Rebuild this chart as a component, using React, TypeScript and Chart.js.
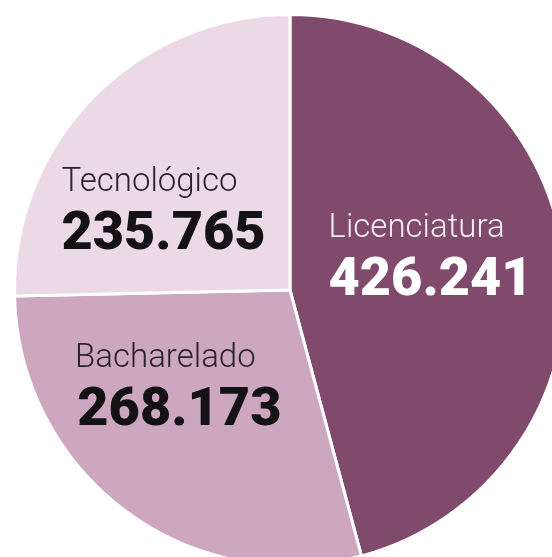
import React, { useEffect, useRef } from "react";
import { Chart, registerables } from "chart.js";

Chart.register(...registerables);

const categories = ["Licenciatura", "Bacharelado", "Tecnológico"];
const values = [426241, 268173, 235765];
const valueLabels = ["426.241", "268.173", "235.765"];

const sliceColors = ["#7f4a6b", "#cda7bf", "#ebdae5"];
const labelColors = ["#f6eef3", "#2a2428", "#2a2428"];
const numberColors = ["#ffffff", "#141214", "#141214"];
// offsets (px) from each slice's centroid to the label block anchor
const labelOffsets = [
  { dx: -10, dy: -35 },
  { dx: -42, dy: -33 },
  { dx: -42, dy: -3 },
];

const labelPlugin = {
  id: "sliceLabels",
  afterDatasetsDraw(chart: any) {
    const ctx = chart.ctx;
    const meta = chart.getDatasetMeta(0);
    ctx.save();
    ctx.textAlign = "center";
    ctx.textBaseline = "alphabetic";
    meta.data.forEach((arc: any, i: number) => {
      const p = arc.tooltipPosition();
      const x = p.x + labelOffsets[i].dx;
      const y = p.y + labelOffsets[i].dy;
      ctx.fillStyle = labelColors[i];
      ctx.font = '300 33px Roboto, "Noto Sans", sans-serif';
      ctx.fillText(categories[i], x, y);
      ctx.fillStyle = numberColors[i];
      ctx.font = '900 54px Roboto, "Noto Sans", sans-serif';
      ctx.fillText(valueLabels[i], x + 14, y + 58);
    });
    ctx.restore();
  },
};

export default function App() {
  const ref = useRef<HTMLCanvasElement | null>(null);
  useEffect(() => {
    if (!ref.current) return;
    const chart = new Chart(ref.current, {
      type: "pie",
      data: {
        labels: categories,
        datasets: [
          {
            data: values,
            backgroundColor: sliceColors,
            borderColor: "#ffffff",
            borderWidth: 3,
          },
        ],
      },
      options: {
        responsive: false,
        animation: false,
        layout: { padding: 13 },
        plugins: {
          legend: { display: false },
          tooltip: { enabled: false },
        },
        events: [],
      },
      plugins: [labelPlugin],
    });
    return () => chart.destroy();
  }, []);
  return (
    <div
      style={{
        position: "fixed",
        left: 0,
        top: 0,
        width: 552,
        height: 557,
        overflow: "hidden",
        background: "#ffffff",
      }}
    >
      <canvas ref={ref} width={580} height={580} style={{ display: "block" }} />
    </div>
  );
}
